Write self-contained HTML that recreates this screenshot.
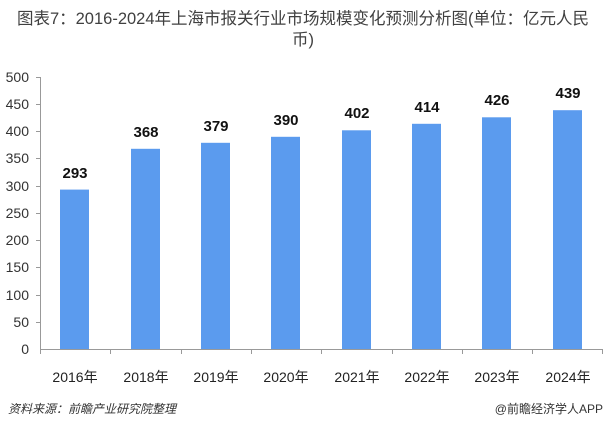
<!DOCTYPE html>
<html><head><meta charset="utf-8"><style>
body{margin:0;background:#fff;width:607px;height:430px;overflow:hidden}
</style></head><body>
<svg width="607" height="430" xmlns="http://www.w3.org/2000/svg" font-family="Liberation Sans, Noto Sans CJK SC, sans-serif">
<text x="303" y="24" text-anchor="middle" font-size="16.5" fill="#404040">图表7：2016-2024年上海市报关行业市场规模变化预测分析图(单位：亿元人民</text>
<text x="303" y="45" text-anchor="middle" font-size="16.5" fill="#404040">币)</text>
<g font-size="14" fill="#333" text-anchor="end">
<text x="29" y="354">0</text><text x="29" y="327">50</text><text x="29" y="300">100</text><text x="29" y="272">150</text><text x="29" y="245">200</text><text x="29" y="218">250</text><text x="29" y="191">300</text><text x="29" y="163">350</text><text x="29" y="136">400</text><text x="29" y="109">450</text><text x="29" y="82">500</text>
</g>
<g stroke="#999" stroke-width="1">
<line x1="40.5" y1="77" x2="40.5" y2="349"/>
<line x1="40" y1="349.5" x2="603" y2="349.5"/>
<line x1="36" y1="77.5" x2="40" y2="77.5"/><line x1="36" y1="104.5" x2="40" y2="104.5"/><line x1="36" y1="131.5" x2="40" y2="131.5"/><line x1="36" y1="158.5" x2="40" y2="158.5"/><line x1="36" y1="186.5" x2="40" y2="186.5"/><line x1="36" y1="213.5" x2="40" y2="213.5"/><line x1="36" y1="240.5" x2="40" y2="240.5"/><line x1="36" y1="267.5" x2="40" y2="267.5"/><line x1="36" y1="295.5" x2="40" y2="295.5"/><line x1="36" y1="322.5" x2="40" y2="322.5"/>
<line x1="110.5" y1="349" x2="110.5" y2="354"/><line x1="181.5" y1="349" x2="181.5" y2="354"/><line x1="251.5" y1="349" x2="251.5" y2="354"/><line x1="321.5" y1="349" x2="321.5" y2="354"/><line x1="392.5" y1="349" x2="392.5" y2="354"/><line x1="462.5" y1="349" x2="462.5" y2="354"/><line x1="532.5" y1="349" x2="532.5" y2="354"/><line x1="602.5" y1="349" x2="602.5" y2="354"/><line x1="40.5" y1="349" x2="40.5" y2="354"/>
</g>
<g fill="#5B9BEE">
<rect x="60" y="189.6" width="29" height="159.4"/>
<rect x="131" y="148.8" width="29" height="200.2"/>
<rect x="201" y="142.8" width="29" height="206.2"/>
<rect x="271" y="136.8" width="29" height="212.2"/>
<rect x="342" y="130.3" width="29" height="218.7"/>
<rect x="412" y="123.8" width="29" height="225.2"/>
<rect x="482" y="117.3" width="29" height="231.7"/>
<rect x="553" y="110.2" width="29" height="238.8"/>
</g>
<g font-size="15" font-weight="bold" fill="#111" text-anchor="middle">
<text x="75" y="178">293</text><text x="146" y="137">368</text><text x="216" y="131">379</text><text x="286" y="125">390</text><text x="357" y="118">402</text><text x="427" y="112">414</text><text x="497" y="105">426</text><text x="568" y="98">439</text>
</g>
<g font-size="14" fill="#222" text-anchor="middle">
<text x="75" y="382">2016年</text><text x="146" y="382">2018年</text><text x="216" y="382">2019年</text><text x="286" y="382">2020年</text><text x="357" y="382">2021年</text><text x="427" y="382">2022年</text><text x="497" y="382">2023年</text><text x="568" y="382">2024年</text>
</g>
<text x="8" y="413" font-size="12" font-style="italic" fill="#333">资料来源：前瞻产业研究院整理</text>
<text x="603" y="413" font-size="12" fill="#333" text-anchor="end">@前瞻经济学人APP</text>
</svg>
</body></html>
